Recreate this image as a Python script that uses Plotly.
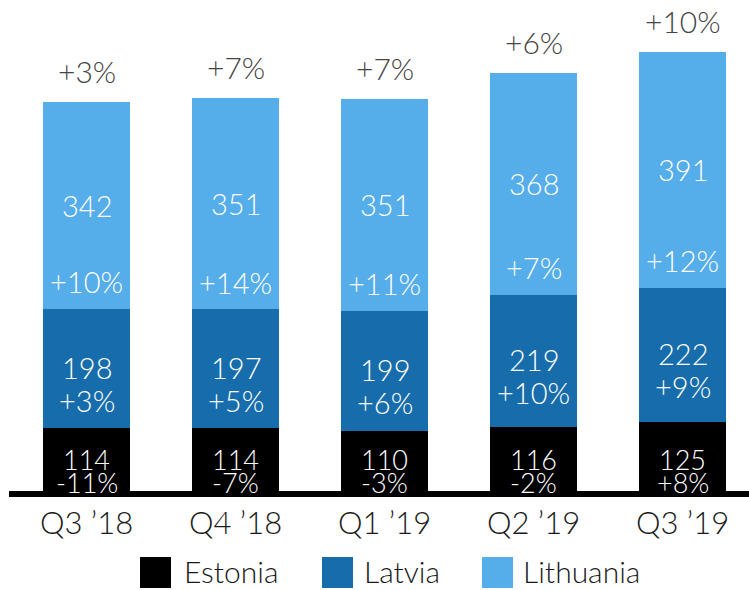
import plotly.graph_objects as go

quarters = ["Q3 \u201918", "Q4 \u201918", "Q1 \u201919", "Q2 \u201919", "Q3 \u201919"]
series_names = ["Estonia", "Latvia", "Lithuania"]
estonia = [114, 114, 110, 116, 125]
latvia = [198, 197, 199, 219, 222]
lithuania = [342, 351, 351, 368, 391]
estonia_pct = ["-11%", "-7%", "-3%", "-2%", "+8%"]
latvia_pct = ["+3%", "+5%", "+6%", "+10%", "+9%"]
lithuania_pct = ["+10%", "+14%", "+11%", "+7%", "+12%"]
total_pct = ["+3%", "+7%", "+7%", "+6%", "+10%"]

colors = ["#000000", "#176dab", "#55adea"]
FONT = "Lato"
WEIGHT = 300

W, H = 749, 590
ML, MR, MT, MB = 12, 0, 0, 93
plot_h = H - MT - MB
px_per_unit = 0.6034
y_top = plot_h / px_per_unit

fig = go.Figure()
for name, vals, col in zip(series_names, [estonia, latvia, lithuania], colors):
    fig.add_trace(go.Bar(x=quarters, y=vals, name=name, marker=dict(color=col, line=dict(width=0)),
                         width=0.584, showlegend=False, hoverinfo="skip"))

ann = []
wfont = dict(family=FONT, size=29, color="white", weight=WEIGHT)
efont = dict(family=FONT, size=27, color="white", weight=WEIGHT)
for i, q in enumerate(quarters):
    e, l, t = estonia[i], latvia[i], lithuania[i]
    # Estonia
    ann.append(dict(x=q, y=0, text=str(e), yshift=38, font=efont))
    ann.append(dict(x=q, y=0, text=estonia_pct[i], yshift=15, font=efont))
    # Latvia
    mid_l = e + l / 2
    ann.append(dict(x=q, y=mid_l, text=str(l), yshift=1, font=wfont))
    ann.append(dict(x=q, y=mid_l, text=latvia_pct[i], yshift=-32, font=wfont))
    # Lithuania
    mid_t = e + l + t / 2
    ann.append(dict(x=q, y=mid_t, text=str(t), yshift=0, font=wfont))
    ann.append(dict(x=q, y=e + l, text=lithuania_pct[i], yshift=27, font=wfont))
    # total growth
    ann.append(dict(x=q, y=e + l + t, text=total_pct[i], yshift=31,
                    font=dict(family=FONT, size=30, color="#444444", weight=WEIGHT)))
for a in ann:
    a.update(xref="x", yref="y", showarrow=False, xanchor="center", yanchor="middle")

# manual legend with large squares
legend_sq_x = [140, 322, 482]
legend_txt_x = [182, 362, 521]
shapes = []
for name, col, sx, tx in zip(series_names, colors, legend_sq_x, legend_txt_x):
    shapes.append(dict(type="rect", xref="paper", yref="paper",
                       x0=(sx - ML) / (W - ML - MR), x1=(sx + 31 - ML) / (W - ML - MR),
                       y0=(H - MB - 588) / plot_h, y1=(H - MB - 557) / plot_h,
                       fillcolor=col, line=dict(width=0)))
    ann.append(dict(xref="paper", yref="paper", x=(tx - ML) / (W - ML - MR),
                    y=(H - MB - 571) / plot_h, text=name, showarrow=False,
                    xanchor="left", yanchor="middle",
                    font=dict(family=FONT, size=30, color="#1a1a1a", weight=WEIGHT)))

# baseline axis line
shapes.append(dict(type="rect", xref="paper", yref="paper",
                   x0=(9 - ML) / (W - ML - MR), x1=1.02, y0=0, y1=6 / plot_h,
                   fillcolor="#000000", line=dict(width=0), layer="above"))

fig.update_layout(
    width=W, height=H, barmode="stack", bargap=0.416,
    margin=dict(l=ML, r=MR, t=MT, b=MB),
    paper_bgcolor="white", plot_bgcolor="white",
    annotations=ann, shapes=shapes,
    xaxis=dict(range=[-0.5, 4.446], showgrid=False, zeroline=False, showline=False,
               ticks="", tickfont=dict(family=FONT, size=31, color="#1a1a1a", weight=WEIGHT),
               ticklabelstandoff=5),
    yaxis=dict(range=[0, y_top], visible=False),
)

fig.write_html("out.html", config={"displayModeBar": False},
               post_script="document.body.style.margin='0';")
